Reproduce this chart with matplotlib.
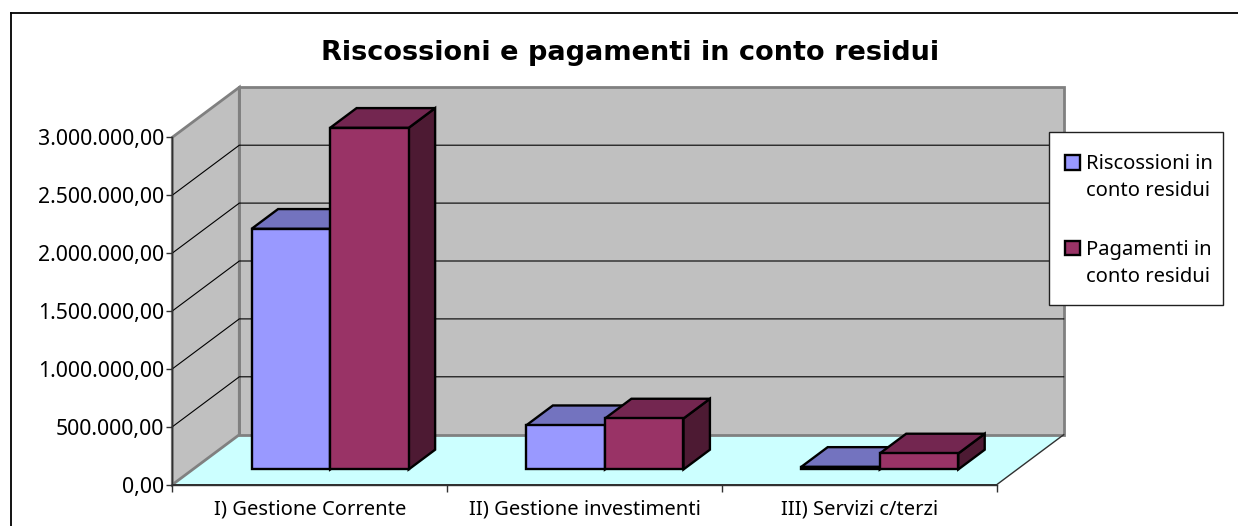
import matplotlib
matplotlib.use("Agg")
import matplotlib.pyplot as plt
from matplotlib.patches import Patch, Rectangle
from matplotlib.lines import Line2D
from matplotlib.legend_handler import HandlerPatch

categories = ["I) Gestione Corrente", "II) Gestione investimenti", "III) Servizi c/terzi"]
riscossioni = [2078000, 382000, 22000]
pagamenti = [2950000, 440000, 138000]
series_names = ["Riscossioni in\nconto residui", "Pagamenti in\nconto residui"]
y_ticks = [0, 500000, 1000000, 1500000, 2000000, 2500000, 3000000]
y_labels = ["0,00", "500.000,00", "1.000.000,00", "1.500.000,00", "2.000.000,00", "2.500.000,00", "3.000.000,00"]
title = "Riscossioni e pagamenti in conto residui"

plt.rcParams['font.family'] = ['Noto Sans', 'DejaVu Sans']
W, H = 1238, 526
fig = plt.figure(figsize=(W / 100, H / 100), dpi=100, facecolor="white")
L, R, B, T = 172.3, 996.7, 484.7, 137.3
ax = fig.add_axes([L / W, 1 - B / H, (R - L) / W, (B - T) / H])
ax.set_xlim(0, 3)
ax.set_ylim(0, 3000000)
ax.patch.set_visible(False)

# oblique depth vector in data units
DX = 67.0 / ((R - L) / 3)
DY = 50.0 / ((B - T) / 3000000)


def P(x, v, d=0.0):
    return (x + d * DX, v + d * DY)


def face(points, fc, ec, lw, z):
    xs, ys = zip(*points)
    ax.fill(xs, ys, facecolor=fc, edgecolor=ec, linewidth=lw, zorder=z,
            clip_on=False, joinstyle="miter")


WALL = "#C0C0C0"
WALLE = "#808080"
face([P(0, 0), P(0, 0, 1), P(3, 0, 1), P(3, 0)], "#CCFFFF", "none", 0, 1)
face([P(0, 0, 1), P(0, 3e6, 1), P(3, 3e6, 1), P(3, 0, 1)], WALL, WALLE, 2.0, 1)
face([P(0, 0), P(0, 3e6), P(0, 3e6, 1), P(0, 0, 1)], WALL, WALLE, 2.0, 1)
for v in y_ticks[1:-1]:
    p = [P(0, v), P(0, v, 1), P(3, v, 1)]
    ax.plot(*zip(*p), color="black", lw=0.8, zorder=2, clip_on=False)
ax.plot(*zip(P(0, 0), P(3, 0), P(3, 0, 1)), color="#303030", lw=1.0, zorder=2, clip_on=False)

# bars
bw = 1 / 3.5
gap = 0.75 * bw
d0, d1 = 0.305, 0.70
styles = [("#9999FF", "#7373BF", "#4D4D80"), ("#993366", "#732650", "#4D1A33")]
for i in range(len(categories)):
    for j, vals in enumerate((riscossioni, pagamenti)):
        x0 = i + gap + j * bw
        x1 = x0 + bw
        v = vals[i]
        fr, tp, sd = styles[j]
        z = 5 + i * 3 + j * 3
        face([P(x1, 0, d0), P(x1, 0, d1), P(x1, v, d1), P(x1, v, d0)], sd, "black", 1.7, z)
        face([P(x0, v, d0), P(x0, v, d1), P(x1, v, d1), P(x1, v, d0)], tp, "black", 1.7, z + 1)
        face([P(x0, 0, d0), P(x0, v, d0), P(x1, v, d0), P(x1, 0, d0)], fr, "black", 1.7, z + 2)

for s in ("top", "right"):
    ax.spines[s].set_visible(False)
for s in ("left", "bottom"):
    ax.spines[s].set_color("#303030")
    ax.spines[s].set_linewidth(1.0)
ax.set_yticks(y_ticks)
ax.set_yticklabels(y_labels, fontsize=15.3, color="black")
ax.tick_params(axis="y", length=4, width=1, color="#303030", pad=1.8)
ax.set_xticks([0, 1, 2, 3])
ax.set_xticklabels([])
ax.tick_params(axis="x", which="major", length=5, width=1, color="#303030")
ax.set_xticks([0.5, 1.5, 2.5], minor=True)
ax.set_xticklabels(categories, minor=True, fontsize=14.5, color="black")
ax.tick_params(axis="x", which="minor", length=0, pad=11)

fig.text(630 / W, 1 - 53 / H, title, fontsize=19.5, fontweight="bold", family="DejaVu Sans",
         ha="center", va="center", color="black")


def square(legend, orig_handle, xdescent, ydescent, width, height, fontsize):
    return Rectangle((-xdescent, -ydescent + 11.5), width, height)


# legend box is drawn separately so that its padding can differ per side
ax.add_patch(Rectangle((1049.3 / W, 1 - 305 / H), 173.4 / W, 173.3 / H, transform=fig.transFigure,
                       facecolor="white", edgecolor="#202020", linewidth=1.0, zorder=49, clip_on=False))
handles = [Patch(facecolor=styles[k][0], edgecolor="black", linewidth=1.7) for k in range(2)]
leg = ax.legend(handles, series_names, loc="upper left", fontsize=14.5, frameon=False,
                bbox_to_anchor=(1065 / W, 1 - 154 / H), bbox_transform=fig.transFigure,
                borderaxespad=0, borderpad=0, handlelength=0.75, handleheight=0.75, handletextpad=0.27,
                labelspacing=1.9, handler_map={Patch: HandlerPatch(patch_func=square)})
leg.set_zorder(50)
for t in leg.get_texts():
    t.set_linespacing(1.5)
    t.set_color("black")

for xs, ys in [((10.5, 10.5), (526, 12.5)), ((10.5, 1238), (12.5, 12.5))]:
    fig.add_artist(Line2D([x / W for x in xs], [1 - y / H for y in ys], color="black", lw=1.3))

fig.savefig("out.png", dpi=100)
